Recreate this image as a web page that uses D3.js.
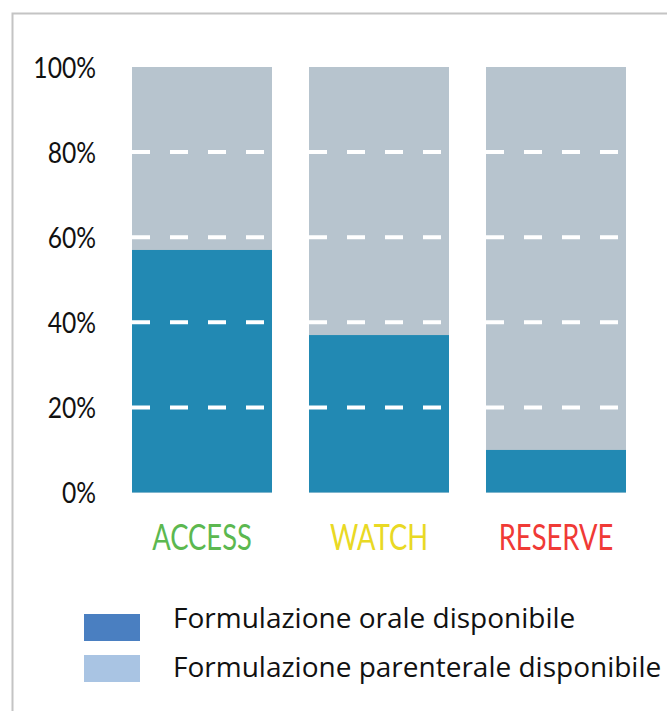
<!DOCTYPE html>
<html>
<head>
<meta charset="utf-8">
<script src="https://cdn.jsdelivr.net/npm/d3@7"></script>
<style>
  body { margin: 0; background: #ffffff; }
  svg { display: block; }
</style>
</head>
<body>
<svg id="chart" width="667" height="711"></svg>
<script>
// Categories and their label colours
const categories = ["ACCESS", "WATCH", "RESERVE"];
const categoryColors = ["#5cb850", "#e9d924", "#f03a36"];

// Share (%) of antibiotics with an oral formulation; the rest of each bar is parenteral
const oralValues = [57, 37, 10];
const totalValues = [100, 100, 100];

// Axis ticks and dashed reference lines
const yTicks = [0, 20, 40, 60, 80, 100];
const gridValues = [20, 40, 60, 80];

// Legend
const legendLabels = ["Formulazione orale disponibile", "Formulazione parenterale disponibile"];
const legendColors = ["#4a7fc1", "#a9c4e3"];

const barOral = "#2289b3";
const barParenteral = "#b7c4ce";

const svg = d3.select("#chart");

// Frame around the figure
svg.append("rect")
  .attr("x", 12.5).attr("y", 13.5)
  .attr("width", 720).attr("height", 760)
  .attr("fill", "none")
  .attr("stroke", "#c4c4c4")
  .attr("stroke-width", 2);

const x = d3.scaleBand()
  .domain(categories)
  .range([132, 626])
  .paddingInner(0.209)
  .paddingOuter(0);

const y = d3.scaleLinear()
  .domain([0, 100])
  .range([492.5, 67]);

const rows = categories.map((c, i) => ({
  cat: c, oral: oralValues[i], total: totalValues[i], color: categoryColors[i]
}));

// Full bars (parenteral share as the background of each column)
svg.append("g").selectAll("rect")
  .data(rows)
  .join("rect")
  .attr("x", d => x(d.cat))
  .attr("width", x.bandwidth())
  .attr("y", d => y(d.total))
  .attr("height", d => y(0) - y(d.total))
  .attr("fill", barParenteral);

// Oral share
svg.append("g").selectAll("rect")
  .data(rows)
  .join("rect")
  .attr("x", d => x(d.cat))
  .attr("width", x.bandwidth())
  .attr("y", d => y(d.oral))
  .attr("height", d => y(0) - y(d.oral))
  .attr("fill", barOral);

// White dashed reference lines across each column
const dashes = svg.append("g");
rows.forEach(d => {
  dashes.selectAll(null)
    .data(gridValues)
    .join("line")
    .attr("x1", x(d.cat))
    .attr("x2", x(d.cat) + x.bandwidth())
    .attr("y1", v => y(v))
    .attr("y2", v => y(v))
    .attr("stroke", "#ffffff")
    .attr("stroke-width", 4)
    .attr("stroke-dasharray", "18,20");
});

// Y axis labels
const yAxis = d3.axisLeft(y)
  .tickValues(yTicks)
  .tickFormat(d => d + "%")
  .tickSize(0)
  .tickPadding(0);

const yg = svg.append("g")
  .attr("transform", "translate(96,0)")
  .call(yAxis);
yg.select(".domain").remove();
yg.selectAll(".tick text")
  .attr("x", 0)
  .attr("dy", "0.36em")
  .attr("transform", "scale(0.85,1)")
  .attr("fill", "#111111")
  .style("font-family", "Lato, sans-serif")
  .style("font-size", "29px");

// Category labels
svg.append("g").selectAll("text")
  .data(rows)
  .join("text")
  .attr("transform", d => `translate(${x(d.cat) + x.bandwidth() / 2},550) scale(0.76,1)`)
  .attr("text-anchor", "middle")
  .attr("fill", d => d.color)
  .style("font-family", "Lato, sans-serif")
  .style("font-size", "36px")
  .text(d => d.cat);

// Legend
const legend = svg.append("g");
legend.selectAll("rect")
  .data(legendLabels)
  .join("rect")
  .attr("x", 84)
  .attr("y", (d, i) => 614 + i * 41)
  .attr("width", 56)
  .attr("height", 27)
  .attr("fill", (d, i) => legendColors[i]);

legend.selectAll("text")
  .data(legendLabels)
  .join("text")
  .attr("x", 173)
  .attr("y", (d, i) => 628 + i * 49)
  .attr("fill", "#111111")
  .style("font-family", "'Open Sans', sans-serif")
  .style("font-size", "28px")
  .text(d => d);
</script>
</body>
</html>
